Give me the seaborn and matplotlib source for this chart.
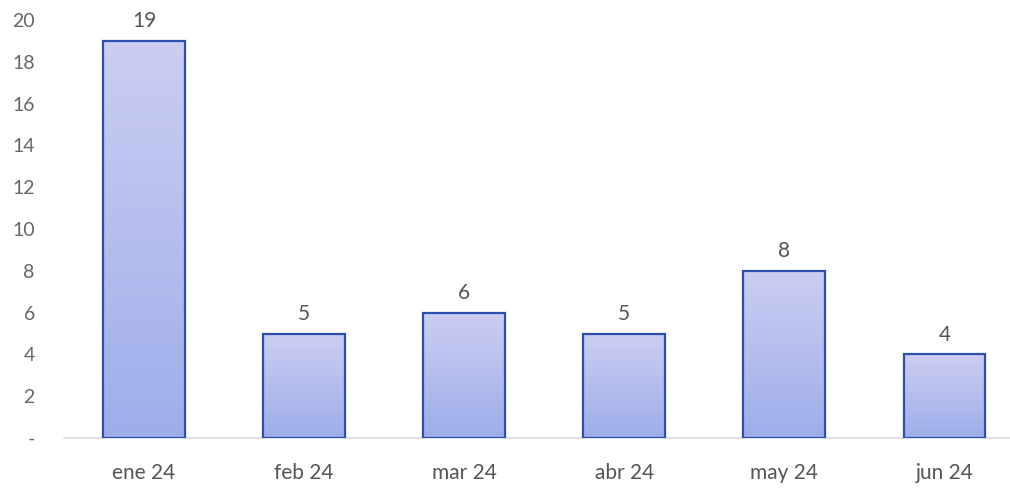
import matplotlib
matplotlib.use("Agg")
import matplotlib.pyplot as plt
import numpy as np
import pandas as pd
import seaborn as sns
from matplotlib.colors import LinearSegmentedColormap

months = ["ene 24", "feb 24", "mar 24", "abr 24", "may 24", "jun 24"]
counts = [19, 5, 6, 5, 8, 4]
yticks = list(range(0, 21, 2))
ytick_labels = ["-"] + [str(t) for t in yticks[1:]]

sns.set_style("white")
plt.rcParams["font.family"] = ["Lato", "DejaVu Sans"]

df = pd.DataFrame({"mes": months, "n": counts})

fig = plt.figure(figsize=(10.1, 4.88), dpi=100)
ax = fig.add_axes([64 / 1010, 50 / 488, 1 - 64 / 1010, 1 - 50 / 488])
sns.barplot(data=df, x="mes", y="n", ax=ax, width=0.51, color="#b4bcee",
            edgecolor="#2b4fae", linewidth=1.6, zorder=3)

# vertical gradient fill clipped to each bar
grad = LinearSegmentedColormap.from_list("g", ["#9eaeea", "#cbcdf2"])
ylim_top = 20.96
for p in ax.patches:
    x0, y0 = p.get_x(), p.get_y()
    w, h = p.get_width(), p.get_height()
    img = ax.imshow(np.linspace(0, 1, 100).reshape(-1, 1), cmap=grad,
                    extent=[x0, x0 + w, y0, y0 + h], origin="lower",
                    aspect="auto", zorder=2.5)
    img.set_clip_path(p)
    p.set_facecolor("none")
ax.set_ylim(0, ylim_top)
ax.set_xlim(-0.5, 5.41)

for c in ax.containers:
    ax.bar_label(c, labels=[str(v) for v in counts], padding=7,
                 fontsize=15, color="#555555")

ax.set_yticks(yticks)
ax.set_yticklabels(ytick_labels)
ax.tick_params(axis="y", length=0, pad=21, labelsize=14, labelcolor="#666666")
ax.tick_params(axis="x", length=0, pad=18, labelsize=15, labelcolor="#555555")
ax.set_xlabel("")
ax.set_ylabel("")
sns.despine(ax=ax, left=True, top=True, right=True)
ax.spines["bottom"].set_color("#dddddd")
ax.spines["bottom"].set_linewidth(1.2)

fig.savefig("out.png", dpi=100)
